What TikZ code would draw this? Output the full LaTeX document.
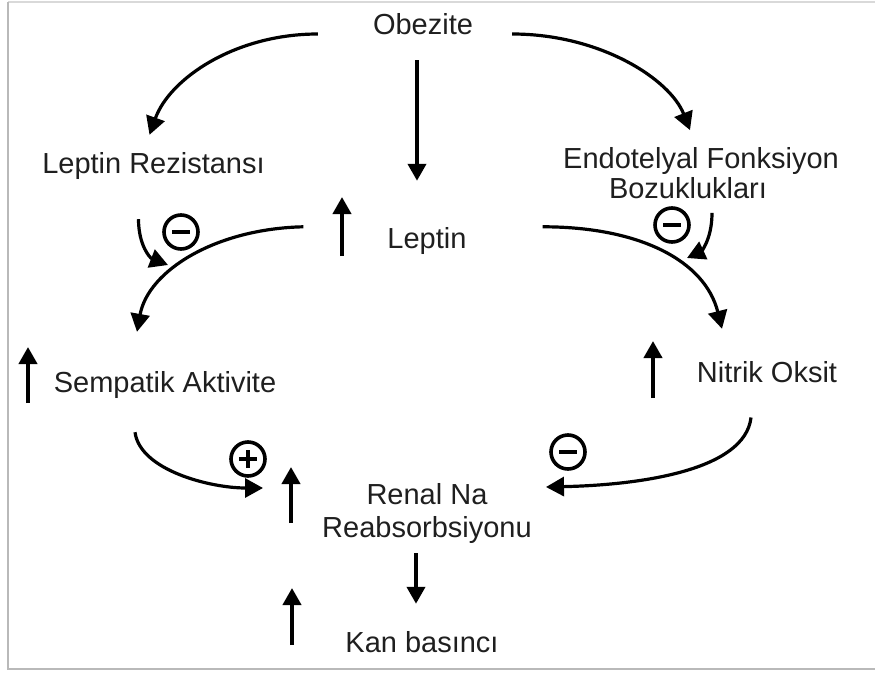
\documentclass[tikz,border=0pt]{standalone}
\usepackage{fontspec}
\setmainfont{Liberation Sans}
\usepackage{tikz}
\usetikzlibrary{arrows.meta}

\begin{document}
\begin{tikzpicture}[x=1pt, y=-1pt,
    lbl/.style={font=\fontsize{29}{32}\selectfont, text=black!88, inner sep=0pt},
    link/.style={line width=3.2pt, -{Triangle[width=19pt,length=18pt]}},
    ind/.style={line width=4pt, -{Triangle[width=18pt,length=17pt]}},
    sign/.style={circle, draw, line width=3.6pt, minimum size=34pt, inner sep=0pt},
    bar/.style={line width=4pt}]
    \useasboundingbox (0,0) rectangle (875,672);
    \draw[gray!30, line width=2pt] (8,2) -- (875,2);
    \draw[gray!55, line width=2pt] (8,2) -- (8,669) -- (875,669);

    % labels
    \node[lbl, anchor=base] (ob) at (423,34) {Obezite};
    \node[lbl, anchor=base] (lr) at (153.5,173) {Leptin Rezistansı};
    \node[lbl, align=center] (endo) at (701,173) {Endotelyal Fonksiyon\\[-2pt]Bozuklukları\hspace*{26pt}};
    \node[lbl, anchor=base] (lep) at (427,248) {Leptin};
    \node[lbl, anchor=base] (sa) at (165,392) {Sempatik Aktivite};
    \node[lbl, anchor=base] (no) at (767,382) {Nitrik Oksit};
    \node[lbl, align=center] (renal) at (427,513) {Renal Na\\[1pt]Reabsorbsiyonu};
    \node[lbl, anchor=base] (kb) at (422,652) {Kan basıncı};

    % signs
    \node[sign] (m1) at (181,232) {};
    \node[sign] (m2) at (672,225) {};
    \node[sign] (m3) at (568,452) {};
    \node[sign] (p1) at (248,459) {};
    \foreach \s in {m1,m2,m3,p1}
        \draw[bar] ([xshift=-9pt]\s.center) -- ([xshift=9pt]\s.center);
    \draw[bar] ([yshift=-9pt]p1.center) -- ([yshift=9pt]p1.center);

    % connectors
    \draw[link] ([xshift=-55pt]ob.base west) .. controls +(-83,0) and +(20,-56) .. ([xshift=-4pt,yshift=17pt]lr.north);
    \draw[link] ([xshift=39pt]ob.base east) .. controls +(88,0) and +(-20,-51) .. ([xshift=-11pt,yshift=17pt]endo.north);
    \draw[ind] ([xshift=-6pt,yshift=-26pt]ob.south) -- ([xshift=-10pt,yshift=46pt]lep.north);
    \draw[link] ([xshift=-84pt]lep.north west) .. controls +(-88,2) and +(11,-61) .. ([xshift=-28pt,yshift=39pt]sa.north);
    \draw[link] ([xshift=76pt]lep.north east) .. controls +(97,0) and +(-17,-68) .. ([xshift=-45pt,yshift=32pt]no.north);
    \draw[link] ([xshift=-30pt,yshift=-34pt]sa.south) .. controls +(5,38) and +(-53,0) .. ([xshift=-59pt,yshift=25pt]renal.west);
    \draw[link] ([xshift=-16pt,yshift=-35pt]no.south) .. controls +(-6,53) and +(94,-2) .. ([xshift=14pt,yshift=26pt]renal.east);
    \draw[ind] ([xshift=-11pt,yshift=-10pt]renal.south) -- ([xshift=-6pt,yshift=27pt]kb.north);

    \coordinate (hitSA) at (168,265);
    \coordinate (hitNO) at (687,258);
    \draw[link] ([xshift=-15pt,yshift=-40pt]lr.south) .. controls +(0,26) and +(-18,-7) .. (hitSA);
    \draw[link] ([xshift=11pt,yshift=-14pt]endo.south) .. controls +(0,28) and +(13,-6) .. (hitNO);

    % up markers
    \foreach \x/\ya/\yb in {342/256/197, 28/403/347, 653/398/341, 291/523/467, 292/645/588}
        \draw[ind] (\x,\ya) -- (\x,\yb);
\end{tikzpicture}
\end{document}
